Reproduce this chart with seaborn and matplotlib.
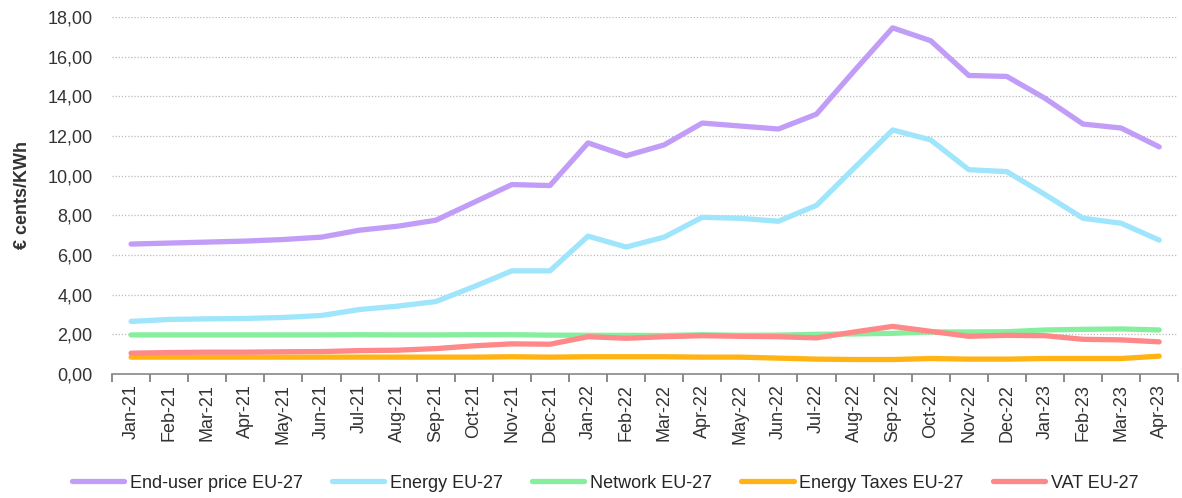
import matplotlib
matplotlib.use("Agg")
import matplotlib.pyplot as plt
import seaborn as sns
import pandas as pd
import numpy as np
from matplotlib.ticker import FixedLocator, FuncFormatter

months = ["Jan-21", "Feb-21", "Mar-21", "Apr-21", "May-21", "Jun-21", "Jul-21", "Aug-21", "Sep-21",
          "Oct-21", "Nov-21", "Dec-21", "Jan-22", "Feb-22", "Mar-22", "Apr-22", "May-22", "Jun-22",
          "Jul-22", "Aug-22", "Sep-22", "Oct-22", "Nov-22", "Dec-22", "Jan-23", "Feb-23", "Mar-23", "Apr-23"]

end_user = [6.55, 6.60, 6.65, 6.70, 6.78, 6.90, 7.25, 7.45, 7.75, 8.65, 9.55, 9.50, 11.65, 11.00,
            11.55, 12.65, 12.50, 12.35, 13.10, 15.30, 17.45, 16.80, 15.05, 15.00, 13.90, 12.60, 12.40, 11.45]
energy = [2.65, 2.75, 2.78, 2.80, 2.85, 2.95, 3.25, 3.42, 3.65, 4.40, 5.20, 5.20, 6.95, 6.40,
          6.90, 7.90, 7.85, 7.70, 8.50, 10.40, 12.30, 11.80, 10.30, 10.20, 9.05, 7.85, 7.60, 6.75]
network = [1.97, 1.97, 1.97, 1.97, 1.97, 1.97, 1.98, 1.97, 1.97, 1.98, 1.98, 1.96, 1.95, 1.95,
           1.94, 1.98, 1.95, 1.96, 2.00, 2.02, 2.05, 2.12, 2.12, 2.13, 2.22, 2.25, 2.27, 2.22]
energy_taxes = [0.85, 0.85, 0.85, 0.85, 0.85, 0.85, 0.85, 0.85, 0.85, 0.85, 0.87, 0.85, 0.87, 0.87,
                0.87, 0.85, 0.85, 0.80, 0.75, 0.73, 0.73, 0.78, 0.75, 0.75, 0.78, 0.78, 0.78, 0.90]
vat = [1.05, 1.08, 1.10, 1.10, 1.12, 1.13, 1.18, 1.20, 1.28, 1.42, 1.52, 1.50, 1.88, 1.80,
       1.88, 1.93, 1.90, 1.88, 1.82, 2.12, 2.40, 2.15, 1.90, 1.95, 1.93, 1.75, 1.72, 1.62]

series_names = ["End-user price EU-27", "Energy EU-27", "Network EU-27", "Energy Taxes EU-27", "VAT EU-27"]
series_values = [end_user, energy, network, energy_taxes, vat]
colors = ["#C19DF8", "#9FE5FB", "#86EF9D", "#FFB414", "#FF8888"]

rows = []
for name, vals in zip(series_names, series_values):
    for i, (m, v) in enumerate(zip(months, vals)):
        rows.append({"idx": i, "month": m, "value": v, "series": name})
df = pd.DataFrame(rows)

sns.set_theme(style="white")
plt.rcParams["font.family"] = ["Liberation Sans", "DejaVu Sans"]

fig = plt.figure(figsize=(11.82, 4.98), dpi=100)
ax = fig.add_axes([0.0948, 0.249, 0.902, 0.717])

sns.lineplot(data=df, x="idx", y="value", hue="series", hue_order=series_names,
             palette=colors, linewidth=3.8, ax=ax, legend=True, sort=False,
             solid_capstyle="round")

ax.set_xlim(-0.5, len(months) - 0.5)
ax.set_ylim(0, 18)
ax.set_yticks(np.arange(0, 18.01, 2))
ax.yaxis.set_major_formatter(FuncFormatter(lambda v, p: f"{v:.2f}".replace(".", ",")))
ax.set_xticks(range(len(months)))
ax.set_xticklabels(months, rotation=90, fontsize=13, color="#333333")
ax.xaxis.set_minor_locator(FixedLocator(np.arange(-0.5, len(months), 1)))
ax.tick_params(axis="x", which="major", length=0, pad=7)
ax.tick_params(axis="x", which="minor", length=6, color="#777777", width=1.2, direction="out", bottom=True)
ax.tick_params(axis="y", labelsize=13, length=0, colors="#333333", pad=14)

ax.grid(axis="y", linestyle=(0, (1, 1.5)), color="#BBBBBB", linewidth=0.9)
ax.set_axisbelow(True)
for s in ["top", "right", "left"]:
    ax.spines[s].set_visible(False)
ax.spines["bottom"].set_color("#888888")
ax.spines["bottom"].set_linewidth(1.2)

ax.set_xlabel("")
ax.set_ylabel("€ cents/KWh", fontsize=13, fontweight="bold", color="#333333", labelpad=12)

handles, labels = ax.get_legend_handles_labels()
ax.legend_.remove()
fig.legend(handles, labels, loc="center", bbox_to_anchor=(0.512, 0.03), ncol=5, frameon=False,
           fontsize=13, handlelength=2.9, handletextpad=0.33, columnspacing=1.6)

fig.savefig("out.png", dpi=100)
